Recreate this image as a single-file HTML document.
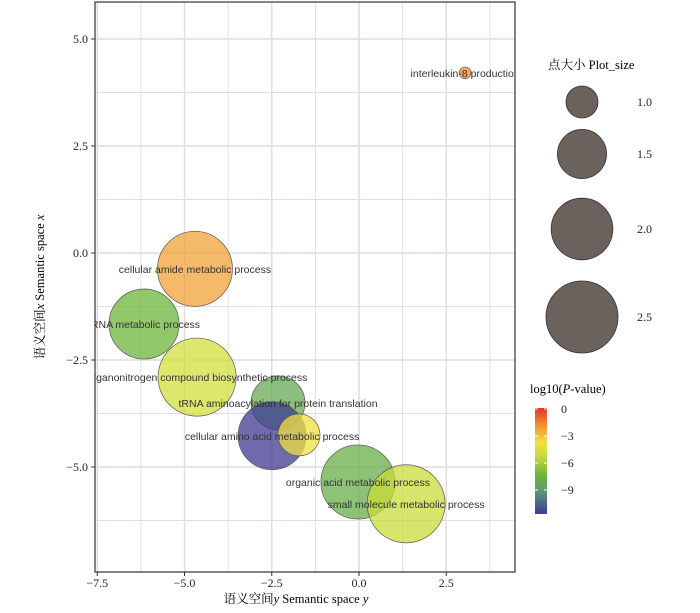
<!DOCTYPE html>
<html><head><meta charset="utf-8"><style>
body{margin:0;background:#fff;width:700px;height:608px;overflow:hidden}
svg text{font-family:"Liberation Serif","Noto Serif CJK SC",serif}
.lbl{font-family:"Liberation Sans",sans-serif;font-size:10.5px;fill:#333}
</style></head><body>
<svg id="chart" width="700" height="608" xmlns="http://www.w3.org/2000/svg">
<defs>
<linearGradient id="cbar" x1="0" y1="1" x2="0" y2="0">
<stop offset="0" stop-color="#3f3a92"/><stop offset="0.22" stop-color="#5d9a72"/>
<stop offset="0.36" stop-color="#6cb53a"/><stop offset="0.55" stop-color="#c8dc3a"/>
<stop offset="0.68" stop-color="#f1e040"/><stop offset="0.85" stop-color="#f08a34"/>
<stop offset="1" stop-color="#e6302a"/></linearGradient>
<clipPath id="clip"><rect x="95" y="2" width="420" height="570"/></clipPath>
</defs>
<g id="grid" clip-path="url(#clip)"></g>
<g id="bubbles" clip-path="url(#clip)"></g>
<g id="labels" clip-path="url(#clip)"></g>
<rect x="95" y="2" width="420" height="570" fill="none" stroke="#333" stroke-width="1.2"/>
<g id="axes"></g>
<text x="296" y="603" font-size="12.5" text-anchor="middle">语义空间<tspan font-style="italic">y</tspan> Semantic space <tspan font-style="italic">y</tspan></text>
<text transform="translate(44,287) rotate(-90)" font-size="12.5" text-anchor="middle">语义空间<tspan font-style="italic">x</tspan> Semantic space <tspan font-style="italic">x</tspan></text>
<text x="548" y="69" font-size="12.5">点大小 Plot_size</text>
<g id="sizeLegend"></g>
<text x="530" y="393" font-size="12.5">log10(<tspan font-style="italic">P</tspan>-value)</text>
<rect x="535" y="408" width="12" height="106" fill="url(#cbar)"/>
<g id="cbarTicks"></g>
</svg>
<script>
const names=["interleukin-8 production","cellular amide metabolic process","tRNA metabolic process","organonitrogen compound biosynthetic process","tRNA aminoacylation for protein translation","cellular amino acid metabolic process","small yellow term","organic acid metabolic process","small molecule metabolic process"];
const xs=[3.04,-4.7,-6.16,-4.64,-2.32,-2.49,-1.72,-0.03,1.35];
const ys=[4.21,-0.37,-1.66,-2.9,-3.5,-4.27,-4.25,-5.35,-5.86];
const sizes=[0.68,2.66,2.4,2.83,1.68,2.3,1.27,2.61,2.83];
const logp=[-1.5,-2,-7.5,-5,-8.5,-12,-3.5,-8,-5.5];
const showLabel=[1,1,1,1,1,1,0,1,1];
const xTicks=[-7.5,-5.0,-2.5,0.0,2.5];
const yTicks=[5.0,2.5,0,-2.5,-5.0];
const legendSizes=[1.0,1.5,2.0,2.5];
const cbarTicks=[0,-3,-6,-9];
const NS="http://www.w3.org/2000/svg";
const X=v=>359+v*34.9, Y=v=>253-v*42.8;
const R=s=>Math.sqrt(Math.max(4,-437+693*s));
const CB=v=>409-v*9;
function color(v){
 const st=[[0,[230,48,42]],[-1.5,[240,140,52]],[-3.5,[241,224,64]],[-5.5,[200,220,58]],[-7.5,[108,181,58]],[-9.5,[93,154,114]],[-12,[63,58,146]]];
 for(let i=0;i<st.length-1;i++){const a=st[i],b=st[i+1];if(v<=a[0]&&v>=b[0]){const t=(a[0]-v)/(a[0]-b[0]);return 'rgb('+a[1].map((c,j)=>Math.round(c+(b[1][j]-c)*t)).join(',')+')';}}
 return v>0?'rgb(230,48,42)':'rgb(63,58,146)';}
function mk(tag,attrs,parent,txt){const e=document.createElementNS(NS,tag);for(const k in attrs)e.setAttribute(k,attrs[k]);if(txt!==undefined)e.textContent=txt;parent.appendChild(e);return e;}
const grid=document.getElementById('grid'),axes=document.getElementById('axes');
for(let v=-8.75;v<=4.5;v+=1.25){const e=mk('line',{x1:X(v),x2:X(v),y1:2,y2:572,stroke:'#e2dcdc','stroke-width':Math.abs(v/2.5-Math.round(v/2.5))<1e-6?1.5:0.9},grid);

}
for(let v=6.25;v>=-7.5;v-=1.25){const e=mk('line',{x1:95,x2:515,y1:Y(v),y2:Y(v),stroke:'#e2dcdc','stroke-width':Math.abs(v/2.5-Math.round(v/2.5))<1e-6?1.5:0.9},grid);

}
xTicks.forEach(v=>{mk('line',{x1:X(v),x2:X(v),y1:572,y2:576,stroke:'#333'},axes);
const t=mk('text',{x:X(v),y:587,'font-size':12,'text-anchor':'middle',fill:'#222'},axes,v.toFixed(1).replace('-','−'));

});
yTicks.forEach(v=>{mk('line',{x1:91,x2:95,y1:Y(v),y2:Y(v),stroke:'#333'},axes);
const t=mk('text',{x:88,y:Y(v)+4,'font-size':12,'text-anchor':'end',fill:'#222'},axes,v.toFixed(1).replace('-','−'));

});
const bg=document.getElementById('bubbles'),lg=document.getElementById('labels');
xs.forEach((x,i)=>{const c=mk('circle',{cx:X(x),cy:Y(ys[i]),r:R(sizes[i]),fill:color(logp[i]),'fill-opacity':0.75,stroke:'#555','stroke-width':0.7},bg);


if(showLabel[i]){const t=mk('text',{x:X(x),y:Y(ys[i])+4,'text-anchor':'middle',class:'lbl'},lg,names[i]);

}});
const sl=document.getElementById('sizeLegend');
const ly=[102,154,229,317];
legendSizes.forEach((s,i)=>{const c=mk('circle',{cx:582,cy:ly[i],r:R(s),fill:'#6b625e',stroke:'#333','stroke-width':0.8},sl);


const t=mk('text',{x:637,y:ly[i]+4,'font-size':12,fill:'#222'},sl,s.toFixed(1));

});
const ct=document.getElementById('cbarTicks');
cbarTicks.forEach(v=>{mk('line',{x1:535,x2:538,y1:CB(v),y2:CB(v),stroke:'#fff'},ct);mk('line',{x1:544,x2:547,y1:CB(v),y2:CB(v),stroke:'#fff'},ct);
const t=mk('text',{x:561,y:CB(v)+4,'font-size':12,fill:'#222'},ct,v===0?'0':'−'+Math.abs(v));

});
</script>
</body></html>
